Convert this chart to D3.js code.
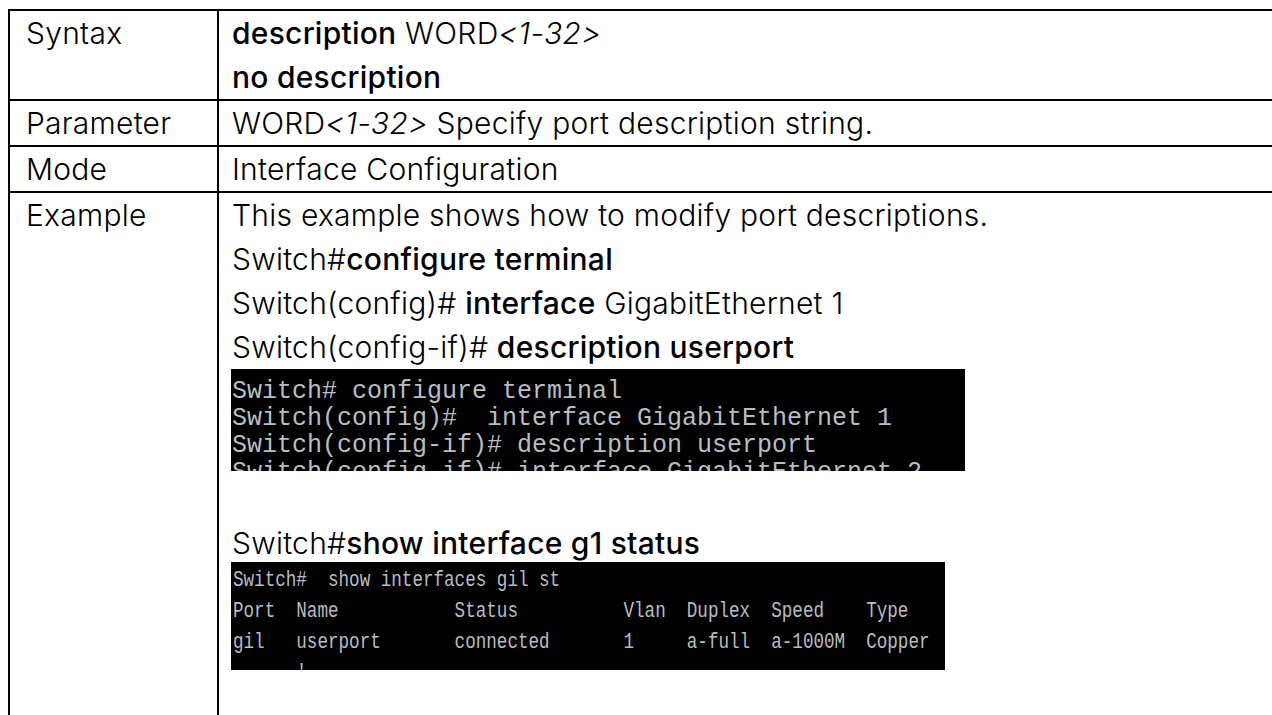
<!DOCTYPE html>
<html><head><meta charset="utf-8">
<script src="https://cdn.jsdelivr.net/npm/d3@7"></script>
<style>html,body{margin:0;padding:0;background:#fff;overflow:hidden}text{white-space:pre}</style>
</head><body><svg id="c" width="1272" height="715"></svg>
<script>
// ---- content ----
const rowLabels = ["Syntax", "Parameter", "Mode", "Example"];
const syntaxLines = [
  [{t:"description", k:"cmd"}, {t:" WORD", k:"arg"}, {t:"<1-32>", k:"range"}],
  [{t:"no description", k:"cmd"}]
];
const parameterLines = [
  [{t:"WORD", k:"arg"}, {t:"<1-32>", k:"range"}, {t:" Specify port description string.", k:"arg"}]
];
const modeLines = [[{t:"Interface Configuration", k:"arg"}]];
const exampleLines = [
  [{t:"This example shows how to modify port descriptions.", k:"arg"}],
  [{t:"Switch#", k:"arg"}, {t:"configure terminal", k:"cmd"}],
  [{t:"Switch(config)# ", k:"arg"}, {t:"interface", k:"cmd"}, {t:" GigabitEthernet 1", k:"arg"}],
  [{t:"Switch(config-if)# ", k:"arg"}, {t:"description userport", k:"cmd"}]
];
const showLine = [{t:"Switch#", k:"arg"}, {t:"show interface g1 status", k:"cmd"}];
const terminal1 = [
  "Switch# configure terminal",
  "Switch(config)#  interface GigabitEthernet 1",
  "Switch(config-if)# description userport",
  "Switch(config-if)# interface GigabitEthernet 2"
];
const terminal2Prompt = "Switch#  show interfaces gil st";
const statusHeader = ["Port", "Name", "Status", "Vlan", "Duplex", "Speed", "Type"];
const statusRow = ["gil", "userport", "connected", "1", "a-full", "a-1000M", "Copper"];
const statusColumns = [0, 6, 21, 37, 43, 51, 60];
const terminal2Tail = "      '";

// ---- layout ----
const W = 1272, H = 715;
const svg = d3.select("#c");
svg.append("rect").attr("width", W).attr("height", H).attr("fill", "#fff");

const xLeft = 9, xDiv = 218, xRight = W;
const rowCounts = [syntaxLines.length, parameterLines.length, modeLines.length];
const lineStep = 44, pad = 23;
const tableTop = 10;
const yUnit = d3.scaleLinear().domain([0, 1]).range([0, lineStep]);
const rowTops = [tableTop];
rowCounts.forEach((n, i) => rowTops.push(rowTops[i] + 2 * pad + yUnit(n - 1)));

const sans = "Inter, Roboto, 'Liberation Sans', Arial, sans-serif";
const fs = 30, ls = 0.25;

function drawLine(segs, x, cy) {
  const t = svg.append("text")
    .attr("x", x).attr("y", cy + fs * 0.36)
    .attr("font-family", sans).attr("font-size", fs).attr("fill", "#000")
    .attr("letter-spacing", ls);
  t.selectAll("tspan").data(segs).join("tspan")
    .text(d => d.t)
    .attr("font-weight", d => d.k === "cmd" ? 500 : 300)
    .attr("font-style", d => d.k === "range" ? "italic" : "normal");
  return t;
}

rowLabels.forEach((lab, i) => {
  svg.append("text").attr("x", 26).attr("y", rowTops[i] + pad + fs * 0.36)
    .attr("font-family", sans).attr("font-size", fs).attr("font-weight", 300)
    .attr("letter-spacing", ls)
    .text(lab);
});

const x2 = 232;
[syntaxLines, parameterLines, modeLines].forEach((lines, r) => {
  lines.forEach((segs, j) => drawLine(segs, x2, rowTops[r] + pad + yUnit(j)));
});

const exTop = rowTops[3];
exampleLines.forEach((segs, j) => drawLine(segs, x2, exTop + pad + yUnit(j)));

// terminal 1
const t1 = {x: 231, y: 369, w: 734, h: 102, step: 27, first: 390, fs: 25};
svg.append("clipPath").attr("id", "clip1").append("rect")
  .attr("x", t1.x).attr("y", t1.y).attr("width", t1.w).attr("height", t1.h);
svg.append("rect").attr("x", t1.x).attr("y", t1.y).attr("width", t1.w).attr("height", t1.h).attr("fill", "#000");
const g1 = svg.append("g").attr("clip-path", "url(#clip1)");
const yT1 = d3.scaleLinear().domain([0, 1]).range([t1.first, t1.first + t1.step]);
g1.selectAll("text").data(terminal1).join("text")
  .attr("x", t1.x + 1).attr("y", (d, i) => yT1(i) + 8)
  .attr("font-family", "'Liberation Mono', 'Courier New', monospace")
  .attr("font-size", t1.fs).attr("fill", "#b9bdc2")
  .text(d => d);

drawLine(showLine, x2, 543);

// terminal 2
const t2 = {x: 231, y: 562, w: 714, h: 108, step: 31, first: 579, fs: 22, sx: 0.8};
const pack = cells => cells.reduce((s, c, i) => s.padEnd(statusColumns[i], " ") + c, "");
const terminal2 = [terminal2Prompt, pack(statusHeader), pack(statusRow), terminal2Tail];
svg.append("clipPath").attr("id", "clip2").append("rect")
  .attr("x", t2.x).attr("y", t2.y).attr("width", t2.w).attr("height", t2.h);
svg.append("rect").attr("x", t2.x).attr("y", t2.y).attr("width", t2.w).attr("height", t2.h).attr("fill", "#000");
const g2 = svg.append("g").attr("clip-path", "url(#clip2)");
const yT2 = d3.scaleLinear().domain([0, 1]).range([t2.first, t2.first + t2.step]);
g2.selectAll("text").data(terminal2).join("text")
  .attr("transform", (d, i) => `translate(${t2.x + 2},${yT2(i) + 7}) scale(${t2.sx},1)`)
  .attr("font-family", "'Liberation Mono', 'Courier New', monospace")
  .attr("font-size", t2.fs).attr("fill", "#b9bdc2")
  .text(d => d);

// grid lines
const lw = 2;
const hLines = rowTops.slice(0, 4);
svg.selectAll("line.h").data(hLines).join("line").attr("class", "h")
  .attr("x1", xLeft - 1).attr("x2", xRight).attr("y1", d => d).attr("y2", d => d)
  .attr("stroke", "#000").attr("stroke-width", lw);
svg.selectAll("line.v").data([xLeft, xDiv]).join("line").attr("class", "v")
  .attr("x1", d => d).attr("x2", d => d).attr("y1", tableTop - 1).attr("y2", H)
  .attr("stroke", "#000").attr("stroke-width", lw);
</script></body></html>
